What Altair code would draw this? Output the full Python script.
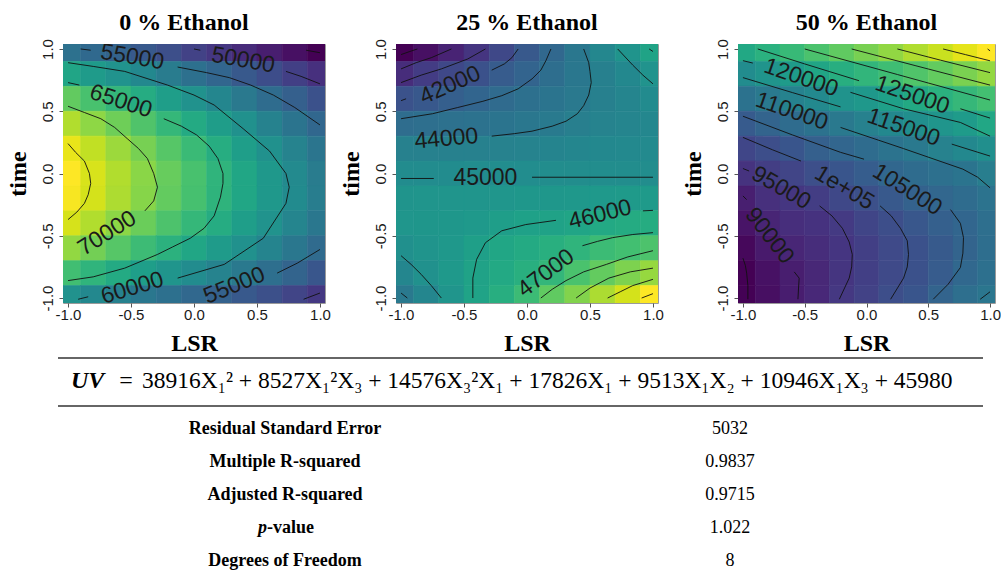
import altair as alt
import pandas as pd

# ---------------- data ----------------
LSR = [-1.0, -0.8, -0.6, -0.4, -0.2, 0.0, 0.2, 0.4, 0.6, 0.8, 1.0]
TIME = [1.0, 0.8, 0.6, 0.4, 0.2, 0.0, -0.2, -0.4, -0.6, -0.8, -1.0]

# rows: time = 1 ... -1, columns: LSR = -1 ... 1
UV_ETH0 = [
    [56000, 55000, 54100, 53000, 51600, 50200, 49100, 47800, 46500, 45200, 43900],
    [63100, 61800, 60500, 59200, 57500, 55900, 54500, 53000, 51400, 49900, 48400],
    [68700, 67100, 65600, 64000, 62200, 60400, 58800, 57100, 55400, 53700, 52000],
    [72800, 71100, 69400, 67600, 65700, 63800, 62000, 60200, 58300, 56500, 54700],
    [75500, 73600, 71800, 69900, 68000, 66100, 64200, 62200, 60300, 58400, 56600],
    [76600, 74700, 72800, 70900, 69000, 67100, 65200, 63300, 61400, 59400, 57500],
    [76300, 74500, 72600, 70700, 68800, 67000, 65100, 63300, 61400, 59500, 57600],
    [74600, 72800, 71000, 69200, 67400, 65700, 64000, 62200, 60500, 58700, 56800],
    [71300, 69700, 68000, 66300, 64800, 63300, 61800, 60200, 58600, 56900, 55200],
    [66600, 65200, 63800, 62200, 60900, 59600, 58400, 57100, 55700, 54200, 52600],
    [60400, 59200, 58100, 56900, 55900, 54800, 54000, 53000, 51800, 50500, 49200],
]
UV_ETH25 = [
    [38800, 39300, 40000, 40700, 41500, 42300, 43000, 43800, 44600, 45300, 46100],
    [40400, 41000, 41500, 41900, 42400, 42800, 43300, 43800, 44200, 44700, 45200],
    [41950, 42250, 42550, 42850, 43150, 43400, 43650, 43900, 44200, 44500, 44800],
    [43250, 43350, 43450, 43550, 43650, 43800, 43950, 44150, 44350, 44500, 44600],
    [44250, 44250, 44250, 44270, 44300, 44350, 44420, 44550, 44650, 44720, 44750],
    [44880, 44880, 44880, 44890, 44890, 44890, 44900, 44900, 44900, 44910, 44920],
    [45300, 45320, 45330, 45330, 45390, 45440, 45480, 45520, 45560, 45600, 45640],
    [45390, 45420, 45480, 45580, 45850, 45980, 46060, 46200, 46390, 46500, 46580],
    [45070, 45250, 45500, 45900, 46250, 46480, 46740, 47000, 47400, 47600, 47860],
    [44550, 45120, 45580, 46040, 46390, 46740, 47160, 47800, 48390, 48940, 49440],
    [43900, 44560, 45320, 46090, 46660, 47420, 48320, 49040, 49840, 50590, 51400],
]
UV_ETH50 = [
    [123800, 126200, 128700, 131400, 134000, 136700, 139300, 142200, 144700, 147400, 150000],
    [116100, 118300, 120400, 123100, 125400, 127600, 129700, 132100, 134400, 136900, 139500],
    [109100, 110900, 113300, 115400, 117900, 119500, 121700, 124100, 126200, 128300, 130400],
    [103200, 105300, 107400, 109200, 111000, 113000, 115000, 116900, 118600, 120400, 123500],
    [98200, 99800, 101900, 104200, 105900, 107600, 109500, 111100, 113200, 115000, 116900],
    [94100, 96300, 97800, 100000, 101900, 103500, 106200, 107500, 108700, 109700, 112300],
    [89900, 93500, 94800, 96100, 98600, 100300, 102800, 104700, 106000, 107600, 109300],
    [87900, 91100, 93000, 94000, 95500, 98000, 99800, 102300, 104300, 105900, 108300],
    [85800, 89000, 91400, 92800, 94600, 96600, 98900, 100700, 103000, 105300, 108000],
    [84600, 87300, 89800, 91800, 94500, 96600, 99000, 100800, 103300, 106300, 108700],
    [84800, 87000, 89600, 91900, 95100, 97300, 99900, 101800, 105300, 108300, 110300],
]

# contour line pieces (LSR, time), broken where the labels sit
CONT_ETH0 = [
    [(-1.0, 0.24), (-0.94, 0.17), (-0.87, 0.10), (-0.83, 0.0), (-0.82, -0.08), (-0.84, -0.17), (-0.87, -0.24), (-0.93, -0.31), (-1.0, -0.37)],
    [(-1.0, 0.54), (-0.87, 0.49), (-0.74, 0.44), (-0.63, 0.37), (-0.53, 0.28), (-0.44, 0.2), (-0.37, 0.12), (-0.32, 0.0), (-0.29, -0.11), (-0.32, -0.22), (-0.39, -0.30)],
    [(-1.0, 0.73), (-0.91, 0.71)],
    [(-0.24, 0.44), (-0.1, 0.38), (0.02, 0.31), (0.12, 0.22), (0.19, 0.12), (0.23, 0.0), (0.23, -0.08), (0.21, -0.19), (0.16, -0.34), (0.08, -0.44), (-0.03, -0.52), (-0.17, -0.59), (-0.29, -0.65), (-0.55, -0.76), (-0.8, -0.83), (-1.0, -0.86)],
    [(-1.0, 0.89), (-0.8, 0.86), (-0.55, 0.82), (-0.21, 0.71), (0.0, 0.63), (0.16, 0.55), (0.39, 0.36), (0.6, 0.18), (0.73, 0.0), (0.756, -0.11), (0.73, -0.24), (0.55, -0.52), (0.24, -0.73), (-0.13, -0.84)],
    [(-0.92, -1.01), (-0.84, -0.99)],
    [(-0.9, 1.0), (-0.82, 0.99)],
    [(-0.13, 0.855), (0.1, 0.81), (0.28, 0.77), (0.45, 0.71), (0.63, 0.63), (0.8, 0.53), (1.0, 0.39)],
    [(0.66, -0.80), (0.82, -0.72), (1.0, -0.61)],
    [(0.0, 1.0), (0.05, 0.99)],
    [(0.73, 0.82), (0.85, 0.78), (1.0, 0.72)],
    [(0.87, -1.01), (1.0, -0.96)],
    [(0.89, 0.99), (1.0, 0.97)],
]
LAB_ETH0 = [("55000", -0.49, 0.935, 10), ("50000", 0.39, 0.91, 10), ("65000", -0.58, 0.58, 18),
            ("70000", -0.69, -0.48, 328), ("60000", -0.49, -0.92, 343), ("55000", 0.32, -0.90, 338)]

CONT_ETH25 = [
    [(-1.0, 0.955), (-0.93, 0.98), (-0.87, 1.0)],
    [(-1.0, 0.84), (-0.88, 0.89), (-0.76, 0.93), (-0.6, 1.0)],
    [(-1.0, 0.73), (-0.84, 0.79), (-0.68, 0.84), (-0.47, 0.92), (-0.33, 1.0)],
    [(-1.0, 0.585), (-0.96, 0.60)],
    [(-0.28, 0.83), (-0.18, 0.88), (-0.12, 0.93), (-0.07, 1.0)],
    [(-1.0, 0.44), (-0.75, 0.48), (-0.55, 0.53), (-0.35, 0.58), (-0.2, 0.625), (-0.07, 0.68), (0.04, 0.76), (0.11, 0.83), (0.15, 0.906), (0.19, 1.0)],
    [(-0.28, 0.30), (-0.1, 0.32), (0.04, 0.34), (0.2, 0.38), (0.31, 0.42), (0.40, 0.48), (0.45, 0.545), (0.49, 0.63), (0.51, 0.73), (0.50, 0.82), (0.49, 0.89), (0.45, 1.0)],
    [(0.72, 1.0), (0.84, 0.87), (0.92, 0.79), (1.0, 0.72)],
    [(0.97, 1.0), (1.0, 0.98)],
    [(-1.0, -0.04), (-0.74, -0.04)],
    [(0.04, -0.03), (1.0, -0.03)],
    [(-1.0, -0.66), (-0.92, -0.73), (-0.84, -0.81), (-0.76, -0.9), (-0.68, -1.0)],
    [(-1.0, -0.96), (-0.95, -1.0)],
    [(0.92, -0.30), (1.0, -0.296)],
    [(0.23, -0.376), (-0.01, -0.41), (-0.2, -0.46), (-0.33, -0.556), (-0.4, -0.69), (-0.43, -0.84), (-0.43, -1.0)],
    [(0.44, -0.58), (0.56, -0.545), (0.68, -0.515), (0.84, -0.49), (1.0, -0.475)],
    [(0.11, -1.0), (0.2, -0.93), (0.31, -0.86), (0.45, -0.79), (0.63, -0.73), (0.8, -0.67), (1.0, -0.62)],
    [(0.39, -1.0), (0.5, -0.92), (0.65, -0.84), (0.82, -0.79), (1.0, -0.76)],
    [(0.64, -1.0), (0.74, -0.95), (0.84, -0.90), (1.0, -0.85)],
    [(0.91, -1.0), (1.0, -0.965)],
]
LAB_ETH25 = [("42000", -0.61, 0.71, 336), ("44000", -0.64, 0.28, 355), ("45000", -0.33, -0.04, 0),
             ("46000", 0.58, -0.33, 346), ("47000", 0.15, -0.80, 323)]

CONT_ETH50 = [
    [(0.98, 1.0), (1.0, 0.985)],
    [(0.62, 1.0), (0.8, 0.955), (1.0, 0.905)],
    [(0.25, 1.0), (0.6, 0.91), (1.0, 0.81)],
    [(-0.12, 1.0), (0.4, 0.865), (1.0, 0.71)],
    [(-0.5, 1.0), (0.25, 0.795), (1.0, 0.59)],
    [(-0.88, 1.0), (-0.5, 0.88), (-0.06, 0.745)],
    [(0.76, 0.52), (1.0, 0.445)],
    [(-1.0, 0.906), (-0.92, 0.887)],
    [(-0.13, 0.652), (0.3, 0.52), (0.76, 0.41), (1.0, 0.30)],
    [(-1.0, 0.77), (-0.6, 0.65), (-0.21, 0.535)],
    [(0.69, 0.236), (1.0, 0.14)],
    [(-0.21, 0.37), (0.3, 0.2), (0.78, 0.035), (0.9, -0.03), (1.0, -0.115)],
    [(0.92, -1.01), (1.0, -0.95)],
    [(-1.0, 0.46), (-0.6, 0.31), (-0.21, 0.17), (-0.02, 0.115)],
    [(0.68, -0.29), (0.76, -0.4), (0.785, -0.515), (0.78, -0.64), (0.76, -0.755), (0.66, -0.89), (0.54, -1.01)],
    [(-1.0, 0.29), (-0.76, 0.19), (-0.53, 0.10)],
    [(0.11, -0.26), (0.2, -0.34), (0.275, -0.44), (0.33, -0.54), (0.34, -0.65), (0.33, -0.75), (0.30, -0.84), (0.195, -1.01)],
    [(-1.0, 0.04), (-0.95, 0.02)],
    [(-0.38, -0.26), (-0.28, -0.34), (-0.195, -0.44), (-0.14, -0.55), (-0.115, -0.65), (-0.12, -0.75), (-0.14, -0.84), (-0.22, -1.01)],
    [(-1.0, -0.18), (-0.97, -0.21)],
    [(-0.585, -0.79), (-0.545, -0.84), (-0.55, -0.92), (-0.555, -1.01)],
    [(-1.0, -0.68), (-0.98, -0.74), (-0.97, -0.8), (-0.96, -0.9), (-0.96, -1.01)],
]
LAB_ETH50 = [("120000", -0.53, 0.77, 19), ("125000", 0.37, 0.63, 19), ("110000", -0.605, 0.50, 19),
             ("115000", 0.30, 0.37, 19), ("95000", -0.69, -0.115, 30), ("1e+05", -0.18, -0.115, 31),
             ("105000", 0.33, -0.13, 32), ("90000", -0.785, -0.50, 52)]

TITLES = ["0 % Ethanol", "25 % Ethanol", "50 % Ethanol"]
TICKS = [-1.0, -0.5, 0.0, 0.5, 1.0]

EQ_LEFT = "UV ="
EQ_RIGHT = "38916X\u2081\u00b2 + 8527X\u2081\u00b2X\u2083 + 14576X\u2083\u00b2X\u2081 + 17826X\u2081  + 9513X\u2081X\u2082 + 10946X\u2081X\u2083 + 45980"
STAT_NAMES = ["Residual Standard Error", "Multiple R-squared", "Adjusted R-squared", "p-value", "Degrees of Freedom"]
STAT_VALUES = ["5032", "0.9837", "0.9715", "1.022", "8"]

# ---------------- building ----------------
SERIF = "Liberation Serif"
SANS = "Liberation Sans"
LBL = "(datum.value < 0 ? '-' : '') + format(abs(datum.value), '.1f')"


def heat_frame(grid):
    hx = abs(LSR[1] - LSR[0]) / 2
    hy = abs(TIME[1] - TIME[0]) / 2
    rows = []
    for i, t in enumerate(TIME):
        for j, l in enumerate(LSR):
            rows.append({"x1": l - hx, "x2": l + hx, "y1": t - hy, "y2": t + hy, "uv": grid[i][j]})
    return pd.DataFrame(rows)


def line_frame(pieces):
    rows = []
    for s, piece in enumerate(pieces):
        for k, (x, y) in enumerate(piece):
            rows.append({"seg": s, "i": k, "x1": x, "y1": y})
    return pd.DataFrame(rows)


def label_frame(labels):
    return pd.DataFrame([{"t": t, "x1": x, "y1": y, "a": a} for t, x, y, a in labels])


def panel(title, grid, pieces, labels, width, dx=0):
    xs = alt.Scale(domain=[-1.04, 1.04], nice=False, zero=False)
    ys = alt.Scale(domain=[-1.04, 1.04], nice=False, zero=False)
    common = dict(values=TICKS, labelExpr=LBL, grid=False, domain=False, tickSize=4,
                  tickColor="#555", labelFont=SANS, labelFontSize=15, labelColor="#1a1a1a",
                  labelFlush=False, labelOverlap=False, titleFont=SERIF,
                  titleFontSize=24, titleFontWeight="bold", titleColor="black")
    xaxis = alt.Axis(title="LSR", titlePadding=9, labelPadding=0, **common)
    yaxis = alt.Axis(title="time", titlePadding=10, labelPadding=4, labelAngle=270,
                     labelAlign="center", labelBaseline="bottom", **common)
    heat = alt.Chart(heat_frame(grid)).mark_rect(clip=True, strokeWidth=0.6).encode(
        x=alt.X("x1:Q", scale=xs, axis=xaxis),
        x2="x2:Q",
        y=alt.Y("y1:Q", scale=ys, axis=yaxis),
        y2="y2:Q",
        color=alt.Color("uv:Q", scale=alt.Scale(scheme="viridis"), legend=None),
        stroke=alt.Stroke("uv:Q", scale=alt.Scale(scheme="viridis"), legend=None),
    )
    lines = alt.Chart(line_frame(pieces)).mark_line(color="#111111", strokeWidth=0.9, clip=True).encode(
        x=alt.X("x1:Q", scale=xs, axis=xaxis),
        y=alt.Y("y1:Q", scale=ys, axis=yaxis),
        detail="seg:N",
        order="i:Q",
    )
    texts = alt.Chart(label_frame(labels)).mark_text(font=SANS, fontSize=23, color="#1a1a1a", clip=True).encode(
        x=alt.X("x1:Q", scale=xs, axis=xaxis),
        y=alt.Y("y1:Q", scale=ys, axis=yaxis),
        text="t:N",
        angle=alt.Angle("a:Q", scale=None),
    )
    return alt.layer(heat, lines, texts).properties(
        width=width, height=259,
        title=alt.TitleParams(text=title, font=SERIF, fontSize=24, fontWeight="bold",
                              color="black", offset=4, frame="group", dx=dx),
    )


p1 = panel(TITLES[0], UV_ETH0, CONT_ETH0, LAB_ETH0, 262, dx=-10)
p2 = panel(TITLES[1], UV_ETH25, CONT_ETH25, LAB_ETH25, 262)
p3 = panel(TITLES[2], UV_ETH50, CONT_ETH50, LAB_ETH50, 257)

inner = alt.hconcat(p1, p2, spacing=7).resolve_scale(color="independent", stroke="independent")
top = alt.hconcat(inner, p3, spacing=16).resolve_scale(color="independent", stroke="independent")

# ---- table (x positions relative to the left edge of the first panel) ----
one = pd.DataFrame({"k": [0]})
rule1 = alt.Chart(one).mark_rule(color="#333", strokeWidth=1.5).encode(
    x=alt.value(-5), x2=alt.value(920), y=alt.value(2))
rule2 = alt.Chart(one).mark_rule(color="#333", strokeWidth=1.5).encode(
    x=alt.value(-5), x2=alt.value(920), y=alt.value(50))
eq_parts = EQ_LEFT.split(" ")
eq_uv = alt.Chart(pd.DataFrame({"t": [eq_parts[0]]})).mark_text(
    font=SERIF, fontSize=24, fontWeight="bold", fontStyle="italic", align="left", color="black").encode(
    text="t:N", x=alt.value(8), y=alt.value(25))
eq_eq = alt.Chart(pd.DataFrame({"t": [eq_parts[1]]})).mark_text(
    font=SERIF, fontSize=24, align="center", color="black").encode(
    text="t:N", x=alt.value(63), y=alt.value(25))
eq_r = alt.Chart(pd.DataFrame({"t": [EQ_RIGHT]})).mark_text(
    font=SERIF, fontSize=23.5, align="left", color="black").encode(
    text="t:N", x=alt.value(79), y=alt.value(25))

stats = pd.DataFrame({"name": STAT_NAMES, "val": STAT_VALUES, "k": list(range(len(STAT_NAMES)))})
ys_tab = alt.Y("k:Q", scale=alt.Scale(domain=[0, len(STAT_NAMES) - 1], range=[73, 205]), axis=None)
base = alt.Chart(stats)
names = base.mark_text(font=SERIF, fontSize=18, fontWeight="bold", color="black").encode(
    text="name:N", x=alt.value(222), y=ys_tab).transform_filter("indexof(datum.name, 'p-') != 0")
p_it = base.mark_text(font=SERIF, fontSize=18, fontWeight="bold", fontStyle="italic", align="right",
                      color="black").encode(text="t:N", x=alt.value(204), y=ys_tab).transform_filter(
    "indexof(datum.name, 'p-') == 0").transform_calculate(t="substring(datum.name, 0, 1)")
p_rest = base.mark_text(font=SERIF, fontSize=18, fontWeight="bold", align="left",
                        color="black").encode(text="t:N", x=alt.value(204), y=ys_tab).transform_filter(
    "indexof(datum.name, 'p-') == 0").transform_calculate(t="substring(datum.name, 1)")
vals = base.mark_text(font=SERIF, fontSize=18, color="black").encode(
    text="val:N", x=alt.value(667), y=ys_tab)
table = alt.layer(rule1, rule2, eq_uv, eq_eq, eq_r, names, p_it, p_rest, vals).properties(
    width=925, height=215, view=alt.ViewBackground(stroke=None))

chart = alt.vconcat(top, table, spacing=0).resolve_scale(color="independent", stroke="independent").configure_view(
    stroke="#9a9a9a", strokeWidth=1).properties(
    padding={"left": 5, "top": 10, "right": 0, "bottom": 0}, background="white")

chart.save("out.html", embed_options={"renderer": "svg", "actions": False})
